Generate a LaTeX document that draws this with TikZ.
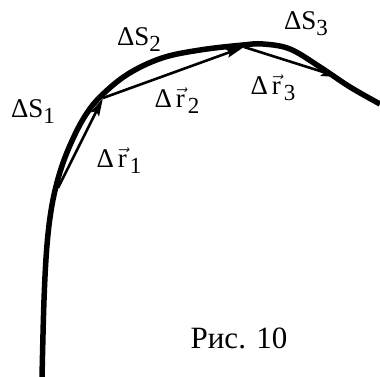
\documentclass[tikz,border=0pt]{standalone}
\usepackage{fontspec}
\setmainfont{Liberation Serif}
\usetikzlibrary{arrows.meta}
\tikzset{
  curveline/.style={line width=5.5pt, line join=round},
  vecarrow/.style={line width=2.6pt, -{Stealth[length=18pt,width=9pt,inset=3pt]}},
  lbl/.style={font=\fontsize{27}{29}\selectfont, inner sep=0pt},
  caption/.style={font=\fontsize{31}{33}\selectfont, inner sep=0pt},
}
\newcommand{\dr}[1]{Δ\kern4pt$\vec{\hbox{r}}$\kern3pt\raisebox{-6pt}{\fontsize{23}{25}\selectfont #1}}
\newcommand{\ds}[1]{ΔS\raisebox{-6pt}{\fontsize{23}{25}\selectfont #1}}
\begin{document}
\begin{tikzpicture}[x=1pt,y=-1pt]
\useasboundingbox (0,0) rectangle (380,376);
\draw[curveline] plot[smooth, tension=0.6] coordinates {(42,378) (44,300) (47,245) (52,205) (60,172) (71,143) (85,116) (101,96) (128,74) (162,58) (200,50) (243,45) (263,44) (290,49) (320,67) (350,87) (380,104)};
\coordinate (P0) at (58,188);
\coordinate (P1) at (103,98);
\coordinate (P2) at (244,47);
\coordinate (P3) at (339,77);
\draw[vecarrow] (P0) -- (P1);
\draw[vecarrow] (P1) -- (P2);
\draw[vecarrow] (P2) -- (P3);
\node[lbl] (s1) at (33,112) {\ds{1}};
\node[lbl] (s2) at (139,40) {\ds{2}};
\node[lbl] (s3) at (306,24) {\ds{3}};
\node[lbl] (r1) at (119,161) {\dr{1}};
\node[lbl] (r2) at (177,101) {\dr{2}};
\node[lbl] (r3) at (273,88) {\dr{3}};
\node[caption] (cap) at (239,338) {Рис. 10};
\end{tikzpicture}
\end{document}
